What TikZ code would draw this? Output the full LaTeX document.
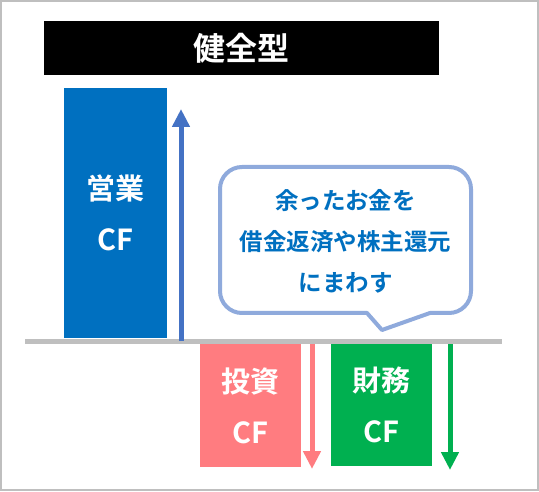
\documentclass[tikz,border=0pt]{standalone}
\usepackage{fontspec}
\setmainfont{Noto Sans CJK JP}[BoldFont=* Bold]
\usetikzlibrary{arrows.meta}
\definecolor{opblue}{HTML}{0070C0}
\definecolor{arrblue}{HTML}{4472C4}
\definecolor{invpink}{HTML}{FF7C80}
\definecolor{fingreen}{HTML}{00B050}
\definecolor{basegray}{HTML}{BFBFBF}
\definecolor{callborder}{HTML}{8FAADC}
\tikzset{
  cfbox/.style={draw=none,inner sep=0pt,align=center,text=white,
    font=\bfseries\fontsize{29}{51}\selectfont},
  flowarrow/.style={line width=5pt,-{Triangle[width=17pt,length=18pt]}},
  calltext/.style={align=center,text=opblue,font=\bfseries\fontsize{23.5}{41}\selectfont}
}
\begin{document}
\begin{tikzpicture}[x=1pt,y=1pt]
\useasboundingbox (0,0) rectangle (539,491);
\draw[basegray,line width=2pt] (1,1) rectangle (538,490);
% title
\node[fill=black,minimum width=395pt,minimum height=54pt,inner sep=0pt,
  text=white,font=\bfseries\fontsize{32}{36}\selectfont] (title) at (241.5,443) {健全型};
% baseline
\coordinate (gl) at (25,149.5);
\coordinate (gr) at (502,149.5);
\draw[basegray,line width=5pt] (gl) -- (gr);
% boxes
\node[cfbox,fill=opblue,minimum width=103pt,minimum height=250pt] (op) at (115.5,278) {営業\\CF};
\node[cfbox,fill=invpink,minimum width=101pt,minimum height=123pt] (inv) at (250.5,85.5) {投資\\CF};
\node[cfbox,fill=fingreen,minimum width=101pt,minimum height=122pt] (fin) at (381.5,86) {財務\\CF};
% arrows
\coordinate (a1s) at (181,150);
\coordinate (a1e) at (181,382);
\coordinate (a2s) at (312,147);
\coordinate (a2e) at (312,22);
\coordinate (a3s) at (450,147);
\coordinate (a3e) at (450,21);
\draw[flowarrow,arrblue] (a1s) -- (a1e);
\draw[flowarrow,invpink] (a2s) -- (a2e);
\draw[flowarrow,fingreen] (a3s) -- (a3e);
% callout
\draw[callborder,line width=4pt,fill=white,line join=round]
  (382,161) -- (430,178) -- (449,178) arc[start angle=-90,end angle=0,radius=22]
  -- (471,302) arc[start angle=0,end angle=90,radius=22]
  -- (242,324) arc[start angle=90,end angle=180,radius=22]
  -- (220,200) arc[start angle=180,end angle=270,radius=22]
  -- (367,178) -- cycle;
\node[calltext] (call) at (345.5,250) {余ったお金を\\借金返済や株主還元\\にまわす};
\end{tikzpicture}
\end{document}
